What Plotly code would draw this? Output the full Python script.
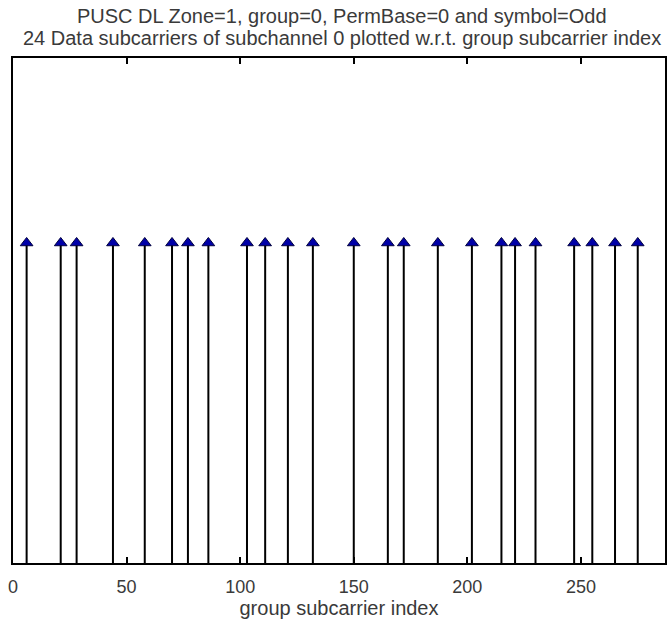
import plotly.graph_objects as go

subcarrier_index = [6, 21, 28, 44, 58, 70, 77, 86, 103, 111, 121, 132,
                    150, 165, 172, 187, 202, 215, 221, 230, 247, 255, 265, 275]
amplitude = [1] * len(subcarrier_index)
x_ticks = [0, 50, 100, 150, 200, 250]

title_lines = ["PUSC DL Zone=1, group=0, PermBase=0 and symbol=Odd",
               "24 Data subcarriers of subchannel 0 plotted w.r.t. group subcarrier index"]
x_label = "group subcarrier index"

font_family = "Liberation Sans, Arial, Helvetica, sans-serif"
text_color = "#3a3a3a"

fig = go.Figure()
fig.add_trace(go.Scatter(
    x=subcarrier_index, y=amplitude, mode="markers",
    marker=dict(symbol="triangle-up", size=11, color="#0000a8",
                line=dict(color="#000040", width=1)),
    error_y=dict(type="data", symmetric=False,
                 array=[0] * len(amplitude), arrayminus=amplitude,
                 width=0, thickness=2, color="black"),
    showlegend=False, cliponaxis=False,
))

# title lines as annotations placed above the plot area
title_y = [1.083, 1.039]
for line, yy in zip(title_lines, title_y):
    fig.add_annotation(text=line, x=0.504, y=yy, xref="paper", yref="paper",
                       xanchor="center", yanchor="middle", showarrow=False,
                       font=dict(size=20, color=text_color, family=font_family))

fig.update_layout(
    width=668, height=624,
    margin=dict(l=13, r=1, t=58, b=61),
    paper_bgcolor="white", plot_bgcolor="white",
    font=dict(family=font_family, size=18, color=text_color),
    xaxis=dict(range=[0, 287], tickvals=x_ticks, ticks="inside", ticklen=6,
               tickwidth=2, tickcolor="black", showline=True, linecolor="black",
               linewidth=2, mirror="ticks", showgrid=False, zeroline=False,
               ticklabelstandoff=6,
               title=dict(text=x_label, standoff=2, font=dict(size=20)),
               tickfont=dict(size=18)),
    yaxis=dict(range=[0, 1.578], showticklabels=False, ticks="",
               showline=True, linecolor="black", linewidth=2, mirror=True,
               showgrid=False, zeroline=False),
)

fig.write_html("out.html")
